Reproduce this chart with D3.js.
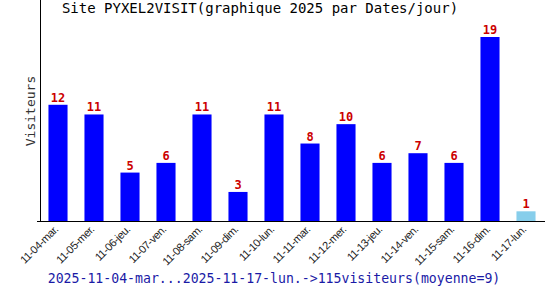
<!DOCTYPE html>
<html>
<head>
<meta charset="utf-8">
<script src="https://cdn.jsdelivr.net/npm/d3@7"></script>
<style>
  body { margin: 0; background: #fff; }
  svg { display: block; }
</style>
</head>
<body>
<svg id="chart"></svg>
<script>
// data
var jours = ["11-04-mar.", "11-05-mer.", "11-06-jeu.", "11-07-ven.", "11-08-sam.", "11-09-dim.", "11-10-lun.",
             "11-11-mar.", "11-12-mer.", "11-13-jeu.", "11-14-ven.", "11-15-sam.", "11-16-dim.", "11-17-lun."];
var visiteurs = [12, 11, 5, 6, 11, 3, 11, 8, 10, 6, 7, 6, 19, 1];
var titre = "Site PYXEL2VISIT(graphique 2025 par Dates/jour)";
var pied = "2025-11-04-mar...2025-11-17-lun.->115visiteurs(moyenne=9)";

const W = 550, H = 300;
const LEFT = 40, RIGHT = 544, BASE = 221, TOP = 37;

var svg = d3.select('#chart').attr('width', W).attr('height', H);

var x = d3.scaleBand().domain(jours).range([LEFT, RIGHT]).paddingInner(0.47).paddingOuter(0.235);
var y = d3.scaleLinear().domain([0, 19]).range([BASE, TOP]);

var data = jours.map(function (j, i) { return { jour: j, v: visiteurs[i], last: i == jours.length - 1 } });

// bars
svg.append("g").selectAll("rect")
    .data(data)
    .enter()
    .append("rect")
    .attr("x", function (d) { return x(d.jour) })
    .attr("y", function (d) { return y(d.v) })
    .attr("width", x.bandwidth())
    .attr("height", function (d) { return BASE - y(d.v) })
    .attr("fill", function (d) { return d.last ? "#87ceeb" : "#0000ff" })

// value labels
svg.append("g").selectAll("text")
    .data(data)
    .enter()
    .append("text")
    .attr("x", function (d) { return x(d.jour) + x.bandwidth() / 2 })
    .attr("y", function (d) { return y(d.v) - 3 })
    .style("text-anchor", "middle")
    .style("font-family", "DejaVu Sans Mono")
    .style("font-weight", "bold")
    .style("font-size", "12px")
    .style("fill", "#cc0000")
    .text(function (d) { return d.v })

// axes
svg.append("line")
    .attr("x1", LEFT + 0.5).attr("x2", LEFT + 0.5)
    .attr("y1", 0).attr("y2", BASE + 0.5)
    .attr("stroke", "#000")
svg.append("line")
    .attr("x1", 37).attr("x2", 545)
    .attr("y1", BASE + 0.5).attr("y2", BASE + 0.5)
    .attr("stroke", "#000")

// x tick labels
svg.append("g").selectAll("text")
    .data(jours)
    .enter()
    .append("text")
    .attr("transform", function (d) {
        return "translate(" + (x(d) + x.bandwidth() / 2 + 1) + "," + (BASE + 9) + ") rotate(-45)"
    })
    .style("text-anchor", "end")
    .style("font-family", "Liberation Sans")
    .style("font-size", "11px")
    .style("letter-spacing", "-0.4px")
    .style("fill", "#222")
    .text(function (d) { return d })

// y label
svg.append("text")
    .attr("transform", "translate(35,111) rotate(-90)")
    .style("text-anchor", "middle")
    .style("font-family", "DejaVu Sans Mono")
    .style("font-size", "13px")
    .style("fill", "#333")
    .text("Visiteurs")

// title
svg.append("text")
    .attr("x", 260)
    .attr("y", 13)
    .style("text-anchor", "middle")
    .style("font-family", "DejaVu Sans Mono")
    .style("font-size", "14px")
    .style("fill", "#000")
    .text(titre)

// footer
svg.append("text")
    .attr("x", 274)
    .attr("y", 283)
    .style("text-anchor", "middle")
    .style("font-family", "DejaVu Sans Mono")
    .style("font-size", "13.2px")
    .style("fill", "#1a1aa6")
    .text(pied)
</script>
</body>
</html>
